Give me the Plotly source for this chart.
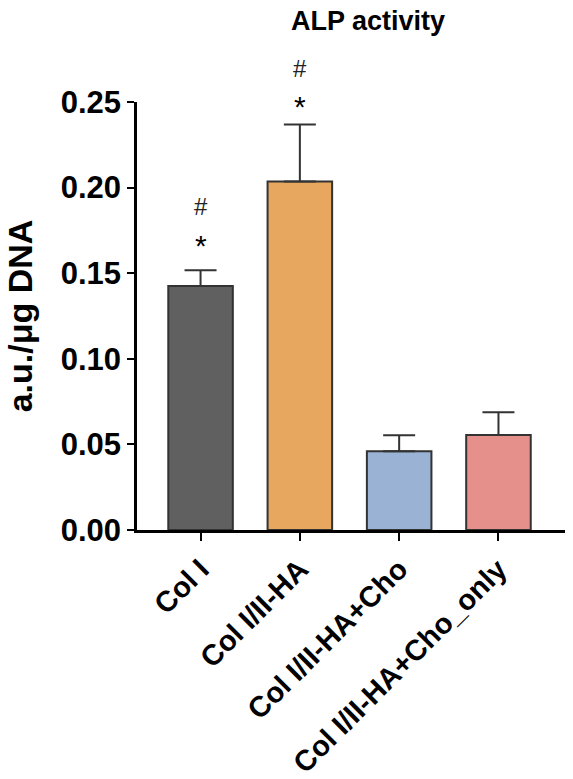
import plotly.graph_objects as go

categories = ["Col I", "Col I/II-HA", "Col I/II-HA+Cho", "Col I/II-HA+Cho_only"]
means = [0.1425, 0.2035, 0.0460, 0.0555]
errors = [0.0092, 0.0333, 0.0093, 0.0133]
colors = ["#606060", "#e8a75e", "#9ab3d5", "#e5908a"]
sig_idx = [0, 1]
star_shift = [31, 24]   # px above error-bar top
hash_shift = [64, 56]
tick_vals = [0.00, 0.05, 0.10, 0.15, 0.20, 0.25]
tick_text = ["0.00", "0.05", "0.10", "0.15", "0.20", "0.25"]

FONT = "Arial, Liberation Sans"

fig = go.Figure()
fig.add_trace(go.Bar(
    x=categories, y=means,
    marker=dict(color=colors, line=dict(color="#333333", width=2)),
    width=0.65,
    error_y=dict(type="data", array=errors, arrayminus=[0]*len(errors), symmetric=False,
                 color="#333333", thickness=2, width=16),
))

for i, ss, hs in zip(sig_idx, star_shift, hash_shift):
    top = means[i] + errors[i]
    fig.add_annotation(x=categories[i], y=top, text="*", showarrow=False, xref="x", yref="y",
                       font=dict(family=FONT, size=30, color="black"), yshift=ss - 6)
    fig.add_annotation(x=categories[i], y=top, text="#", showarrow=False, xref="x", yref="y",
                       font=dict(family=FONT, size=24, color="#222222"), yshift=hs)

fig.update_layout(
    width=573, height=779,
    margin=dict(l=137, r=8, t=102, b=249),
    plot_bgcolor="white", paper_bgcolor="white",
    showlegend=False,
    title=dict(text="<b>ALP activity</b>", x=368/573, xanchor="center", y=1-21/779, yanchor="middle",
               font=dict(family=FONT, size=27, color="black")),
    font=dict(family=FONT, color="black"),
)
fig.update_xaxes(
    range=[-0.64, 3.67], showline=True, linecolor="black", linewidth=2.5,
    ticks="outside", ticklen=8, tickwidth=2, tickcolor="black",
    tickangle=-45, tickfont=dict(size=29, family=FONT, color="black"),
    tickvals=categories, ticktext=["<b>%s</b>" % c for c in categories],
    showgrid=False, zeroline=False, automargin=False,
)
fig.update_yaxes(
    range=[0, 0.25], showline=True, linecolor="black", linewidth=2.5,
    ticks="outside", ticklen=7, tickwidth=2, tickcolor="black",
    tickvals=tick_vals, ticktext=["<b>%s</b>" % t for t in tick_text],
    tickfont=dict(size=31, family=FONT, color="black"),
    showgrid=False, zeroline=False, automargin=False,
    title=dict(text="<b>a.u./μg DNA</b>", font=dict(size=34, family=FONT, color="black"), standoff=18),
)

fig.write_html("out.html")
